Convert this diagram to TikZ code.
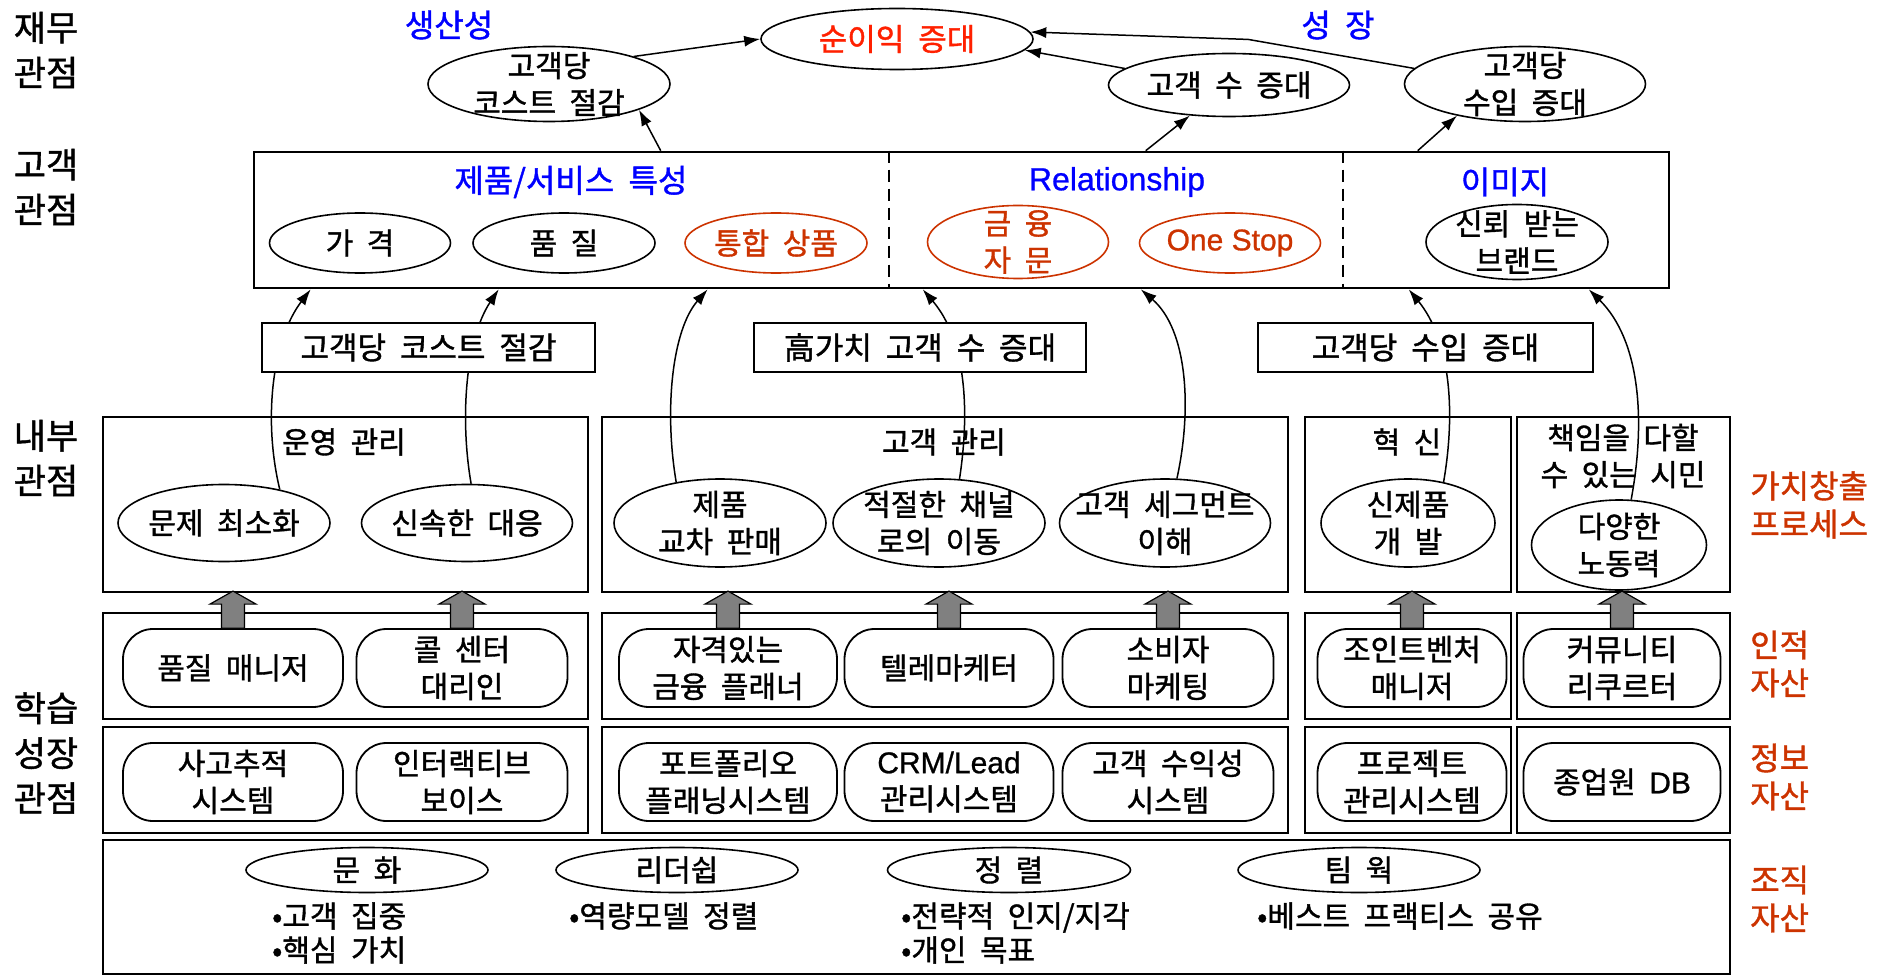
\documentclass[tikz,border=0pt]{standalone}
\usepackage{fontspec}
\setmainfont[WordSpace=2.0, FakeBold=1.2]{Noto Sans CJK KR}
\newfontfamily\latfont[FakeBold=0.8]{Liberation Sans}
\usetikzlibrary{shapes.geometric, arrows.meta}
\definecolor{bl}{RGB}{0,0,255}
\definecolor{rd}{RGB}{255,32,0}
\definecolor{rdd}{RGB}{204,51,0}
\definecolor{gr}{RGB}{128,128,128}
\newcommand\fs[2]{\fontsize{#1}{#2}\selectfont}
% name, position, width, height, style, text
\newcommand\El[6]{%
  \node[ell,#5,minimum width=#3,minimum height=#4] (#1) at (#2) {};
  \node[#5] (#1-t) at (#1.center) {#6};}
\begin{document}
\begin{tikzpicture}[x=1pt,y=-1pt,
  every node/.style={inner sep=0pt, align=center, font=\fs{30}{37}},
  hd/.style={font=\fs{35}{45}},
  rl/.style={font=\fs{32}{38}, text=rdd, align=left, anchor=west},
  bt/.style={text=bl, font=\fs{32}{37}},
  ell/.style={draw, ellipse, line width=1.6pt},
  pl/.style={},
  rdel/.style={text=rdd, color=rdd},
  snst/.style={text=rd, font=\fs{31}{37}},
  bigbox/.style={draw, line width=2.6pt},
  strip/.style={draw, line width=1.8pt, fill=white, font=\fs{31}{37}},
  rbox/.style={draw, line width=1.8pt, rounded corners=30pt},
  arr/.style={line width=1.5pt, -{Latex[length=16pt,width=11pt]}},
  blk/.style={draw, fill=gr, line width=1.2pt},
  dv/.style={line width=1.8pt, dash pattern=on 12pt off 7pt},
  bul/.style={anchor=west, align=left, font=\fs{30}{34}},
]
\useasboundingbox (0,0) rectangle (1888,976);

% ---------- left / right labels ----------
\node[hd] (lf1) at (46,50) {재무\\관점};
\node[hd] (lf2) at (46,187) {고객\\관점};
\node[hd] (lf3) at (46,458) {내부\\관점};
\node[hd] (lf4) at (46,753) {학습\\성장\\관점};
\node[rl] (rt1) at (1750,505) {가치창출\\프로세스};
\node[rl] (rt2) at (1750,664) {인적\\자산};
\node[rl] (rt3) at (1750,777) {정보\\자산};
\node[rl] (rt4) at (1750,899) {조직\\자산};

% ---------- customer perspective ----------
\node[bigbox, minimum width=1415, minimum height=136] (cust) at (961.5,220) {};
\draw[dv] ([xshift=636]cust.north west) -- ([xshift=636]cust.south west);
\draw[dv] ([xshift=1090]cust.north west) -- ([xshift=1090]cust.south west);
\node[bt] (h1) at (571,182) {제품/서비스 특성};
\node[bt] (h2) at (1117,182) {\latfont Relationship};
\node[bt] (h3) at (1505,182) {이미지};
\El{c1}{360,243}{181}{60}{pl}{가 격}
\El{c2}{564,243}{182}{60}{pl}{품 질}
\El{c3}{776,243}{182}{60}{rdel}{통합 상품}
\El{c4}{1018,242}{181}{73}{rdel}{금 융\\자 문}
\El{c5}{1230,243}{181}{60}{rdel}{\latfont One Stop}
\El{c6}{1517,242}{182}{75}{pl}{신뢰 받는\\브랜드}

% ---------- financial perspective ----------
\node[bt] (t1) at (449,25) {생산성};
\node[bt] (t2) at (1338,25) {성 장};
\El{sn}{897,39}{272}{61}{snst}{순이익 증대}
\El{gc}{549,84}{242}{75}{pl}{고객당\\코스트 절감}
\El{gsd}{1229,85}{241}{63}{pl}{고객 수 증대}
\El{gsi}{1525,84}{241}{75}{pl}{고객당\\수입 증대}
\draw[arr] ([xshift=408]cust.north west) -- (gc.-16);
\draw[arr] (gc.18) -- (sn.west);
\draw[arr] (gsd.171) -- (sn.-5);
\draw[arr] (gsi.172) -- ++(-166,-29) -- (sn.3);
\draw[arr] ([xshift=893]cust.north west) -- (gsd.218);
\draw[arr] ([xshift=1165]cust.north west) -- (gsi.205);

% ---------- internal perspective ----------
\node[bigbox, minimum width=485, minimum height=175] (i1) at (345.5,504.5) {};
\node[bigbox, minimum width=686, minimum height=175] (i2) at (945,504.5) {};
\node[bigbox, minimum width=206, minimum height=175] (i3) at (1408,504.5) {};
\node[bigbox, minimum width=213, minimum height=175] (i4) at (1623.5,504.5) {};
\node (it1) at (344,442) {운영 관리};
\node (it2) at (944,442) {고객 관리};
\node (it3) at (1407,442) {혁 신};
\node (it4) at (1623,456) {책임을 다할\\수 있는 시민};
\El{pm}{224,523}{212}{77}{pl}{문제 최소화}
\El{sd}{467,523}{211}{77}{pl}{신속한 대응}
\El{jp}{720,523}{212}{88}{pl}{제품\\교차 판매}
\El{jc}{939,523}{212}{88}{pl}{적절한 채널\\로의 이동}
\El{gs}{1165,523}{211}{88}{pl}{고객 세그먼트\\이해}
\El{sj}{1408,523}{174}{88}{pl}{신제품\\개 발}
\El{dyn}{1619,545}{175}{90}{pl}{다양한\\노동력}

% curved connectors to customer box
\draw[arr] (pm.31) .. controls (263,420) and (272,340) .. ([xshift=58]cust.south west);
\draw[arr] (sd.84) .. controls (460,420) and (465,340) .. ([xshift=246]cust.south west);
\draw[arr] (jp.137) .. controls (664,410) and (672,330) .. ([xshift=455]cust.south west);
\draw[arr] (jc.65) .. controls (970,410) and (966,340) .. ([xshift=670]cust.south west);
\draw[arr] (gs.75) .. controls (1192,410) and (1188,330) .. ([xshift=888]cust.south west);
\draw[arr] (sj.49) .. controls (1456,410) and (1450,340) .. ([xshift=1156]cust.south west);
\draw[arr] (dyn.75) .. controls (1646,420) and (1640,340) .. ([xshift=1336]cust.south west);

% strip boxes (on top of curves)
\node[strip, minimum width=333, minimum height=49] (s1) at (428.5,347.5) {고객당 코스트 절감};
\node[strip, minimum width=332, minimum height=49] (s2) at (920,347.5) {高가치 고객 수 증대};
\node[strip, minimum width=335, minimum height=49] (s3) at (1425.5,347.5) {고객당 수입 증대};

% ---------- learning & growth ----------
\node[bigbox, minimum width=485, minimum height=106] (pa1) at (345.5,666) {};
\node[bigbox, minimum width=686, minimum height=106] (pa2) at (945,666) {};
\node[bigbox, minimum width=206, minimum height=106] (pa3) at (1408,666) {};
\node[bigbox, minimum width=213, minimum height=106] (pa4) at (1623.5,666) {};
\node[bigbox, minimum width=485, minimum height=106] (ia1) at (345.5,780) {};
\node[bigbox, minimum width=686, minimum height=106] (ia2) at (945,780) {};
\node[bigbox, minimum width=206, minimum height=106] (ia3) at (1408,780) {};
\node[bigbox, minimum width=213, minimum height=106] (ia4) at (1623.5,780) {};
\node[bigbox, minimum width=1627, minimum height=134] (oa) at (916.5,907) {};

\node[rbox, minimum width=220, minimum height=78] (p1) at (233,668) {품질 매니저};
\node[rbox, minimum width=211, minimum height=78] (p2) at (462,668) {콜 센터\\대리인};
\node[rbox, minimum width=218, minimum height=78] (p3) at (728,668) {자격있는\\금융 플래너};
\node[rbox, minimum width=209, minimum height=78] (p4) at (949,668) {텔레마케터};
\node[rbox, minimum width=211, minimum height=78] (p5) at (1168,668) {소비자\\마케팅};
\node[rbox, minimum width=189, minimum height=78] (p6) at (1412,668) {조인트벤처\\매니저};
\node[rbox, minimum width=197, minimum height=78] (p7) at (1622,668) {커뮤니티\\리쿠르터};

\node[rbox, minimum width=220, minimum height=78] (q1) at (233,782) {사고추적\\시스템};
\node[rbox, minimum width=211, minimum height=78] (q2) at (462,782) {인터랙티브\\보이스};
\node[rbox, minimum width=218, minimum height=78] (q3) at (728,782) {포트폴리오\\플래닝시스템};
\node[rbox, minimum width=209, minimum height=78] (q4) at (949,782) {{\latfont CRM/Lead}\\관리시스템};
\node[rbox, minimum width=211, minimum height=78] (q5) at (1168,782) {고객 수익성\\시스템};
\node[rbox, minimum width=189, minimum height=78] (q6) at (1412,782) {프로젝트\\관리시스템};
\node[rbox, minimum width=197, minimum height=78] (q7) at (1622,782) {종업원 {\latfont DB}};

% block arrows
\foreach \p in {p1,p2,p3,p4,p5,p6,p7}{
  \draw[blk] ([xshift=-11.5]\p.north) -- ++(0,-24) -- ++(-11.5,0) -- ++(23,-13)
     -- ++(23,13) -- ++(-11.5,0) -- ++(0,24) -- cycle;
}

% organisation assets
\El{o1}{367,870}{242}{45}{pl}{문 화}
\El{o2}{677,870}{242}{45}{pl}{리더쉽}
\El{o3}{1009,870}{243}{45}{pl}{정 렬}
\El{o4}{1359,870}{242}{45}{pl}{팀 웍}
\node[bul] (b1) at (272,933) {•고객 집중\\•핵심 가치};
\node[bul] (b2) at (569,916) {•역량모델 정렬};
\node[bul] (b3) at (901,933) {•전략적 인지/지각\\•개인 목표};
\node[bul] (b4) at (1257,916) {•베스트 프랙티스 공유};
\end{tikzpicture}
\end{document}
